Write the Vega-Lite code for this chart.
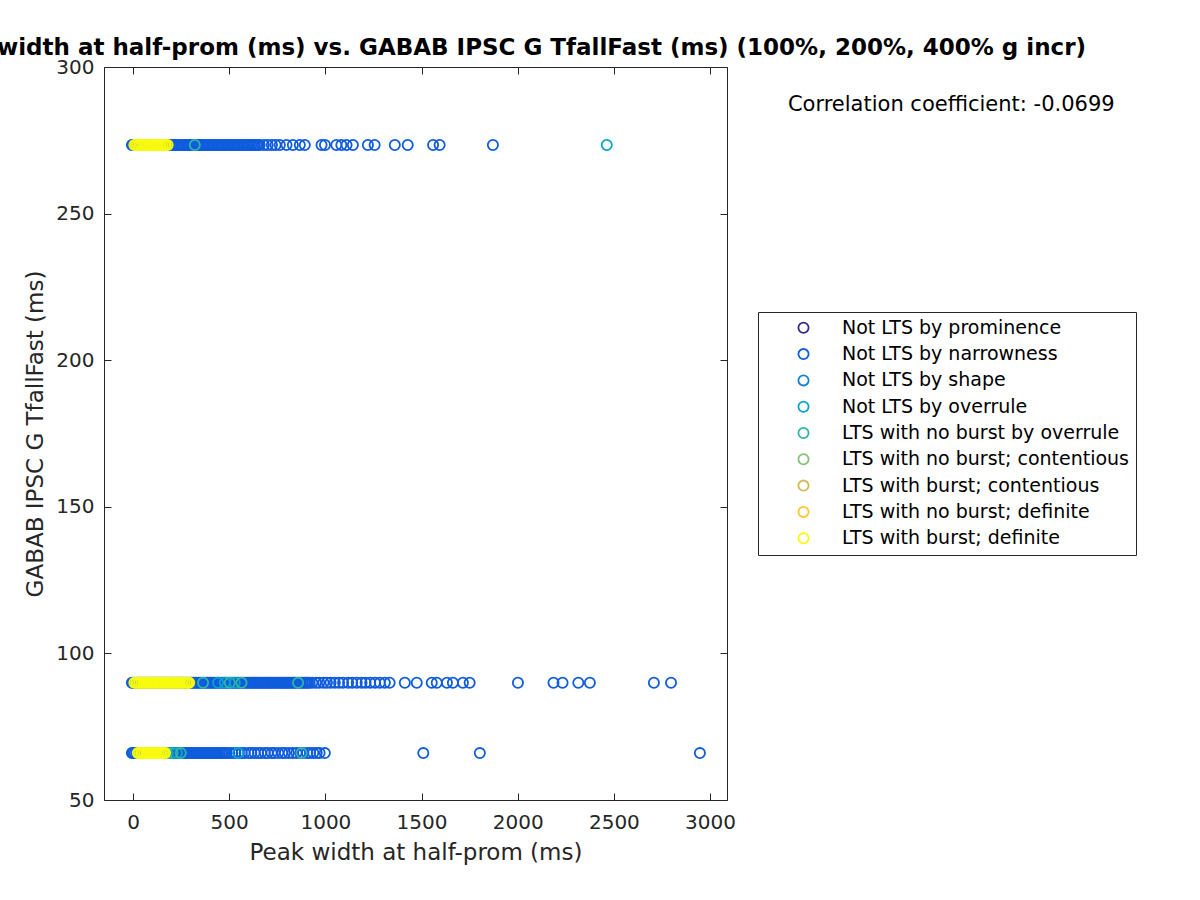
{
"$schema":"https://vega.github.io/schema/vega-lite/v6.json",
"width":623,"height":733,
"autosize":{"type":"none"},
"padding":{"left":104,"top":67,"right":473,"bottom":100},
"background":"white",
"config":{"font":"DejaVu Sans","view":{"stroke":"#262626","strokeWidth":1}},
"title":{"text":"Peak width at half-prom (ms) vs. GABAB IPSC G TfallFast (ms) (100%, 200%, 400% g incr)","anchor":"end","frame":"group","dx":359,"fontSize":23,"fontWeight":"bold","color":"black","offset":-3},
"datasets":{
"pts":[
{"x":-6,"y":273.4,"k":2},{"x":0,"y":273.4,"k":2},{"x":8,"y":273.4,"k":2},{"x":17,"y":273.4,"k":2},{"x":26,"y":273.4,"k":2},{"x":34,"y":273.4,"k":2},{"x":43,"y":273.4,"k":2},{"x":52,"y":273.4,"k":2},{"x":60,"y":273.4,"k":2},{"x":69,"y":273.4,"k":2},{"x":78,"y":273.4,"k":2},{"x":86,"y":273.4,"k":2},{"x":95,"y":273.4,"k":2},{"x":104,"y":273.4,"k":2},{"x":112,"y":273.4,"k":2},{"x":121,"y":273.4,"k":2},{"x":130,"y":273.4,"k":2},{"x":138,"y":273.4,"k":2},{"x":147,"y":273.4,"k":2},{"x":156,"y":273.4,"k":2},{"x":164,"y":273.4,"k":2},{"x":173,"y":273.4,"k":2},{"x":182,"y":273.4,"k":2},{"x":190,"y":273.4,"k":2},{"x":199,"y":273.4,"k":2},{"x":208,"y":273.4,"k":2},{"x":216,"y":273.4,"k":2},{"x":225,"y":273.4,"k":2},{"x":234,"y":273.4,"k":2},{"x":242,"y":273.4,"k":2},{"x":251,"y":273.4,"k":2},{"x":260,"y":273.4,"k":2},{"x":268,"y":273.4,"k":2},{"x":277,"y":273.4,"k":2},{"x":286,"y":273.4,"k":2},{"x":294,"y":273.4,"k":2},{"x":303,"y":273.4,"k":2},{"x":312,"y":273.4,"k":2},{"x":320,"y":273.4,"k":2},{"x":329,"y":273.4,"k":2},{"x":338,"y":273.4,"k":2},{"x":346,"y":273.4,"k":2},{"x":355,"y":273.4,"k":2},{"x":364,"y":273.4,"k":2},{"x":372,"y":273.4,"k":2},{"x":381,"y":273.4,"k":2},{"x":390,"y":273.4,"k":2},{"x":398,"y":273.4,"k":2},{"x":407,"y":273.4,"k":2},{"x":416,"y":273.4,"k":2},{"x":424,"y":273.4,"k":2},{"x":433,"y":273.4,"k":2},{"x":442,"y":273.4,"k":2},{"x":450,"y":273.4,"k":2},{"x":459,"y":273.4,"k":2},{"x":468,"y":273.4,"k":2},{"x":476,"y":273.4,"k":2},{"x":485,"y":273.4,"k":2},{"x":494,"y":273.4,"k":2},{"x":502,"y":273.4,"k":2},{"x":511,"y":273.4,"k":2},{"x":520,"y":273.4,"k":2},{"x":528,"y":273.4,"k":2},{"x":537,"y":273.4,"k":2},{"x":546,"y":273.4,"k":2},{"x":554,"y":273.4,"k":2},{"x":563,"y":273.4,"k":2},{"x":572,"y":273.4,"k":2},{"x":580,"y":273.4,"k":2},{"x":589,"y":273.4,"k":2},{"x":598,"y":273.4,"k":2},{"x":606,"y":273.4,"k":2},{"x":615,"y":273.4,"k":2},{"x":624,"y":273.4,"k":2},{"x":632,"y":273.4,"k":2},{"x":641,"y":273.4,"k":2},{"x":650,"y":273.4,"k":2},{"x":658,"y":273.4,"k":2},
{"x":680,"y":273.4,"k":2},{"x":700,"y":273.4,"k":2},{"x":722,"y":273.4,"k":2},{"x":741,"y":273.4,"k":2},{"x":763,"y":273.4,"k":2},{"x":798,"y":273.4,"k":2},{"x":831,"y":273.4,"k":2},{"x":867,"y":273.4,"k":2},{"x":893,"y":273.4,"k":2},{"x":980,"y":273.4,"k":2},{"x":998,"y":273.4,"k":2},{"x":1057,"y":273.4,"k":2},{"x":1083,"y":273.4,"k":2},{"x":1110,"y":273.4,"k":2},{"x":1143,"y":273.4,"k":2},{"x":1221,"y":273.4,"k":2},{"x":1256,"y":273.4,"k":2},{"x":1361,"y":273.4,"k":2},{"x":1428,"y":273.4,"k":2},{"x":1560,"y":273.4,"k":2},{"x":1594,"y":273.4,"k":2},{"x":1871,"y":273.4,"k":2},
{"x":-6,"y":90,"k":2},{"x":0,"y":90,"k":2},{"x":9,"y":90,"k":2},{"x":18,"y":90,"k":2},{"x":27,"y":90,"k":2},{"x":36,"y":90,"k":2},{"x":45,"y":90,"k":2},{"x":54,"y":90,"k":2},{"x":63,"y":90,"k":2},{"x":72,"y":90,"k":2},{"x":81,"y":90,"k":2},{"x":90,"y":90,"k":2},{"x":99,"y":90,"k":2},{"x":108,"y":90,"k":2},{"x":117,"y":90,"k":2},{"x":126,"y":90,"k":2},{"x":135,"y":90,"k":2},{"x":144,"y":90,"k":2},{"x":153,"y":90,"k":2},{"x":162,"y":90,"k":2},{"x":171,"y":90,"k":2},{"x":180,"y":90,"k":2},{"x":189,"y":90,"k":2},{"x":198,"y":90,"k":2},{"x":207,"y":90,"k":2},{"x":216,"y":90,"k":2},{"x":225,"y":90,"k":2},{"x":234,"y":90,"k":2},{"x":243,"y":90,"k":2},{"x":252,"y":90,"k":2},{"x":261,"y":90,"k":2},{"x":270,"y":90,"k":2},{"x":279,"y":90,"k":2},{"x":288,"y":90,"k":2},{"x":297,"y":90,"k":2},{"x":306,"y":90,"k":2},{"x":315,"y":90,"k":2},{"x":324,"y":90,"k":2},{"x":333,"y":90,"k":2},{"x":342,"y":90,"k":2},{"x":351,"y":90,"k":2},{"x":360,"y":90,"k":2},{"x":369,"y":90,"k":2},{"x":378,"y":90,"k":2},{"x":387,"y":90,"k":2},{"x":396,"y":90,"k":2},{"x":405,"y":90,"k":2},{"x":414,"y":90,"k":2},{"x":423,"y":90,"k":2},{"x":432,"y":90,"k":2},{"x":441,"y":90,"k":2},{"x":450,"y":90,"k":2},{"x":459,"y":90,"k":2},{"x":468,"y":90,"k":2},{"x":477,"y":90,"k":2},{"x":486,"y":90,"k":2},{"x":495,"y":90,"k":2},{"x":504,"y":90,"k":2},{"x":513,"y":90,"k":2},{"x":522,"y":90,"k":2},{"x":531,"y":90,"k":2},{"x":540,"y":90,"k":2},{"x":549,"y":90,"k":2},{"x":558,"y":90,"k":2},{"x":567,"y":90,"k":2},{"x":576,"y":90,"k":2},{"x":585,"y":90,"k":2},{"x":594,"y":90,"k":2},{"x":603,"y":90,"k":2},{"x":612,"y":90,"k":2},{"x":621,"y":90,"k":2},{"x":630,"y":90,"k":2},{"x":639,"y":90,"k":2},{"x":648,"y":90,"k":2},{"x":657,"y":90,"k":2},{"x":666,"y":90,"k":2},{"x":675,"y":90,"k":2},{"x":684,"y":90,"k":2},{"x":693,"y":90,"k":2},{"x":702,"y":90,"k":2},{"x":711,"y":90,"k":2},{"x":720,"y":90,"k":2},{"x":729,"y":90,"k":2},{"x":738,"y":90,"k":2},{"x":747,"y":90,"k":2},{"x":756,"y":90,"k":2},{"x":765,"y":90,"k":2},{"x":774,"y":90,"k":2},{"x":783,"y":90,"k":2},{"x":792,"y":90,"k":2},{"x":801,"y":90,"k":2},{"x":810,"y":90,"k":2},{"x":819,"y":90,"k":2},{"x":828,"y":90,"k":2},{"x":837,"y":90,"k":2},{"x":846,"y":90,"k":2},{"x":855,"y":90,"k":2},{"x":864,"y":90,"k":2},{"x":873,"y":90,"k":2},{"x":882,"y":90,"k":2},{"x":891,"y":90,"k":2},{"x":900,"y":90,"k":2},{"x":909,"y":90,"k":2},{"x":918,"y":90,"k":2},
{"x":932,"y":90,"k":2},{"x":951,"y":90,"k":2},{"x":968,"y":90,"k":2},{"x":990,"y":90,"k":2},{"x":1008,"y":90,"k":2},{"x":1027,"y":90,"k":2},{"x":1049,"y":90,"k":2},{"x":1071,"y":90,"k":2},{"x":1092,"y":90,"k":2},{"x":1118,"y":90,"k":2},{"x":1139,"y":90,"k":2},{"x":1163,"y":90,"k":2},{"x":1188,"y":90,"k":2},{"x":1209,"y":90,"k":2},{"x":1233,"y":90,"k":2},{"x":1258,"y":90,"k":2},{"x":1283,"y":90,"k":2},{"x":1309,"y":90,"k":2},{"x":1334,"y":90,"k":2},{"x":1413,"y":90,"k":2},{"x":1475,"y":90,"k":2},{"x":1553,"y":90,"k":2},{"x":1579,"y":90,"k":2},{"x":1632,"y":90,"k":2},{"x":1663,"y":90,"k":2},{"x":1715,"y":90,"k":2},{"x":1750,"y":90,"k":2},{"x":2001,"y":90,"k":2},{"x":2186,"y":90,"k":2},{"x":2233,"y":90,"k":2},{"x":2315,"y":90,"k":2},{"x":2375,"y":90,"k":2},{"x":2708,"y":90,"k":2},{"x":2797,"y":90,"k":2},
{"x":-6,"y":66,"k":2},{"x":0,"y":66,"k":2},{"x":9,"y":66,"k":2},{"x":18,"y":66,"k":2},{"x":27,"y":66,"k":2},{"x":36,"y":66,"k":2},{"x":45,"y":66,"k":2},{"x":54,"y":66,"k":2},{"x":63,"y":66,"k":2},{"x":72,"y":66,"k":2},{"x":81,"y":66,"k":2},{"x":90,"y":66,"k":2},{"x":99,"y":66,"k":2},{"x":108,"y":66,"k":2},{"x":117,"y":66,"k":2},{"x":126,"y":66,"k":2},{"x":135,"y":66,"k":2},{"x":144,"y":66,"k":2},{"x":153,"y":66,"k":2},{"x":162,"y":66,"k":2},{"x":171,"y":66,"k":2},{"x":180,"y":66,"k":2},{"x":189,"y":66,"k":2},{"x":198,"y":66,"k":2},{"x":207,"y":66,"k":2},{"x":216,"y":66,"k":2},{"x":225,"y":66,"k":2},{"x":234,"y":66,"k":2},{"x":243,"y":66,"k":2},{"x":252,"y":66,"k":2},{"x":261,"y":66,"k":2},{"x":270,"y":66,"k":2},{"x":279,"y":66,"k":2},{"x":288,"y":66,"k":2},{"x":297,"y":66,"k":2},{"x":306,"y":66,"k":2},{"x":315,"y":66,"k":2},{"x":324,"y":66,"k":2},{"x":333,"y":66,"k":2},{"x":342,"y":66,"k":2},{"x":351,"y":66,"k":2},{"x":360,"y":66,"k":2},{"x":369,"y":66,"k":2},{"x":378,"y":66,"k":2},{"x":387,"y":66,"k":2},{"x":396,"y":66,"k":2},{"x":405,"y":66,"k":2},{"x":414,"y":66,"k":2},{"x":423,"y":66,"k":2},{"x":432,"y":66,"k":2},{"x":441,"y":66,"k":2},{"x":450,"y":66,"k":2},{"x":459,"y":66,"k":2},{"x":468,"y":66,"k":2},{"x":477,"y":66,"k":2},{"x":485,"y":66,"k":2},
{"x":500,"y":66,"k":2},{"x":515,"y":66,"k":2},{"x":532,"y":66,"k":2},{"x":550,"y":66,"k":2},{"x":565,"y":66,"k":2},{"x":580,"y":66,"k":2},{"x":600,"y":66,"k":2},{"x":615,"y":66,"k":2},{"x":632,"y":66,"k":2},{"x":650,"y":66,"k":2},{"x":665,"y":66,"k":2},{"x":685,"y":66,"k":2},{"x":700,"y":66,"k":2},{"x":720,"y":66,"k":2},{"x":735,"y":66,"k":2},{"x":755,"y":66,"k":2},{"x":775,"y":66,"k":2},{"x":790,"y":66,"k":2},{"x":810,"y":66,"k":2},{"x":830,"y":66,"k":2},{"x":850,"y":66,"k":2},{"x":870,"y":66,"k":2},{"x":885,"y":66,"k":2},{"x":905,"y":66,"k":2},{"x":920,"y":66,"k":2},{"x":937,"y":66,"k":2},{"x":955,"y":66,"k":2},{"x":970,"y":66,"k":2},{"x":997,"y":66,"k":2},{"x":1509,"y":66,"k":2},{"x":1803,"y":66,"k":2},{"x":2947,"y":66,"k":2},
{"x":321,"y":273.4,"k":5},{"x":2463,"y":273.4,"k":4},
{"x":364,"y":90,"k":5},{"x":442,"y":90,"k":4},{"x":477,"y":90,"k":4},{"x":503,"y":90,"k":5},{"x":529,"y":90,"k":4},{"x":564,"y":90,"k":5},{"x":858,"y":90,"k":5},
{"x":180,"y":66,"k":5},{"x":205,"y":66,"k":5},{"x":228,"y":66,"k":4},{"x":248,"y":66,"k":5},{"x":546,"y":66,"k":4},{"x":876,"y":66,"k":5},
{"x":7,"y":273.4,"k":9},{"x":15,"y":273.4,"k":9},{"x":24,"y":273.4,"k":9},{"x":33,"y":273.4,"k":9},{"x":41,"y":273.4,"k":9},{"x":50,"y":273.4,"k":9},{"x":59,"y":273.4,"k":9},{"x":67,"y":273.4,"k":9},{"x":76,"y":273.4,"k":9},{"x":85,"y":273.4,"k":9},{"x":93,"y":273.4,"k":9},{"x":102,"y":273.4,"k":9},{"x":111,"y":273.4,"k":9},{"x":119,"y":273.4,"k":9},{"x":128,"y":273.4,"k":9},{"x":137,"y":273.4,"k":9},{"x":145,"y":273.4,"k":9},{"x":154,"y":273.4,"k":9},{"x":163,"y":273.4,"k":9},{"x":171,"y":273.4,"k":9},{"x":180,"y":273.4,"k":9},
{"x":7,"y":90,"k":9},{"x":16,"y":90,"k":9},{"x":25,"y":90,"k":9},{"x":34,"y":90,"k":9},{"x":43,"y":90,"k":9},{"x":52,"y":90,"k":9},{"x":61,"y":90,"k":9},{"x":70,"y":90,"k":9},{"x":79,"y":90,"k":9},{"x":88,"y":90,"k":9},{"x":97,"y":90,"k":9},{"x":106,"y":90,"k":9},{"x":115,"y":90,"k":9},{"x":124,"y":90,"k":9},{"x":133,"y":90,"k":9},{"x":142,"y":90,"k":9},{"x":151,"y":90,"k":9},{"x":160,"y":90,"k":9},{"x":169,"y":90,"k":9},{"x":178,"y":90,"k":9},{"x":187,"y":90,"k":9},{"x":196,"y":90,"k":9},{"x":205,"y":90,"k":9},{"x":214,"y":90,"k":9},{"x":223,"y":90,"k":9},{"x":232,"y":90,"k":9},{"x":241,"y":90,"k":9},{"x":250,"y":90,"k":9},{"x":259,"y":90,"k":9},{"x":268,"y":90,"k":9},{"x":277,"y":90,"k":9},{"x":285,"y":90,"k":9},{"x":292,"y":90,"k":9},
{"x":25,"y":66,"k":9},{"x":33,"y":66,"k":9},{"x":42,"y":66,"k":9},{"x":51,"y":66,"k":9},{"x":60,"y":66,"k":9},{"x":69,"y":66,"k":9},{"x":78,"y":66,"k":9},{"x":87,"y":66,"k":9},{"x":96,"y":66,"k":9},{"x":105,"y":66,"k":9},{"x":114,"y":66,"k":9},{"x":123,"y":66,"k":9},{"x":132,"y":66,"k":9},{"x":141,"y":66,"k":9},{"x":150,"y":66,"k":9},{"x":159,"y":66,"k":9},{"x":167,"y":66,"k":9}
],
"cats":[
{"k":1,"name":"Not LTS by prominence"},{"k":2,"name":"Not LTS by narrowness"},{"k":3,"name":"Not LTS by shape"},{"k":4,"name":"Not LTS by overrule"},{"k":5,"name":"LTS with no burst by overrule"},{"k":6,"name":"LTS with no burst; contentious"},{"k":7,"name":"LTS with burst; contentious"},{"k":8,"name":"LTS with no burst; definite"},{"k":9,"name":"LTS with burst; definite"}
],
"note":[{"x":4254,"y":287.0,"label":"Correlation coefficient: -0.0699"}]
},
"layer":[
{
"data":{"name":"pts"},
"transform":[{"lookup":"k","from":{"data":{"name":"cats"},"key":"k","fields":["name"]}}],
"mark":{"type":"point","shape":"circle","filled":false,"size":104,"strokeWidth":1.8,"opacity":1},
"encoding":{
"x":{"field":"x","type":"quantitative","scale":{"domain":[-151,3088],"nice":false,"zero":false},
"axis":{"orient":"bottom","values":[0,500,1000,1500,2000,2500,3000],"format":"d","title":"Peak width at half-prom (ms)","titleFontSize":23,"titleFontWeight":"normal","titleColor":"#262626","titlePadding":9,"labelFontSize":20,"labelColor":"#262626","labelPadding":19,"tickSize":-7,"tickColor":"#262626","domain":false,"grid":false}},
"y":{"field":"y","type":"quantitative","scale":{"domain":[50,300],"nice":false,"zero":false},
"axis":{"orient":"left","values":[50,100,150,200,250,300],"format":"d","title":"GABAB IPSC G TfallFast (ms)","titleFontSize":23,"titleFontWeight":"normal","titleColor":"#262626","titlePadding":8,"labelFontSize":20,"labelColor":"#262626","labelPadding":17,"tickSize":-7,"tickColor":"#262626","domain":false,"grid":false}},
"color":{"field":"name","type":"nominal",
"scale":{"domain":["Not LTS by prominence","Not LTS by narrowness","Not LTS by shape","Not LTS by overrule","LTS with no burst by overrule","LTS with no burst; contentious","LTS with burst; contentious","LTS with no burst; definite","LTS with burst; definite"],
"range":["#352a87","#0f5cdd","#1481d6","#06a4ca","#2eb7a4","#87bf77","#d1bb59","#fec832","#f9fb0e"]},
"legend":{"title":null,"orient":"none","legendX":654,"legendY":245,"padding":6.3,"strokeColor":"#262626","fillColor":"white","symbolType":"circle","symbolSize":104,"symbolStrokeWidth":1.8,"symbolOffset":29.7,"labelOffset":29,"labelFontSize":19,"labelColor":"black","rowPadding":6.3,"labelLimit":400}}
}
},
{
"data":{"name":"note"},
"mark":{"type":"text","fontSize":21,"color":"black","align":"center","baseline":"middle"},
"encoding":{
"x":{"field":"x","type":"quantitative","scale":{"domain":[-151,3088],"nice":false,"zero":false},
"axis":{"orient":"top","values":[0,500,1000,1500,2000,2500,3000],"labels":false,"title":null,"tickSize":-7,"tickColor":"#262626","domain":false,"grid":false}},
"y":{"field":"y","type":"quantitative","scale":{"domain":[50,300],"nice":false,"zero":false},
"axis":{"orient":"right","values":[50,100,150,200,250,300],"labels":false,"title":null,"tickSize":-7,"tickColor":"#262626","domain":false,"grid":false}},
"text":{"field":"label"}
}
}
],
"resolve":{"axis":{"x":"independent","y":"independent"}}
}
